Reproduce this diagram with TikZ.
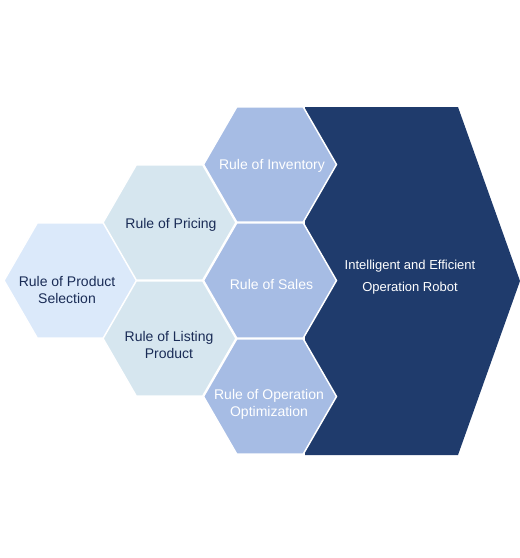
\documentclass[tikz,border=0pt]{standalone}
\usepackage{fontspec}
\setmainfont{Liberation Sans}
\definecolor{hexlight}{RGB}{219,233,250}
\definecolor{hexpale}{RGB}{214,230,239}
\definecolor{hexmid}{RGB}{166,188,228}
\definecolor{robotblue}{RGB}{31,59,108}
\definecolor{inkdark}{RGB}{26,44,86}
\begin{document}
\begin{tikzpicture}[x=1pt,y=-1pt,
  hexcell/.style={draw=white,line width=1.5pt,line join=miter},
  lbl/.style={align=center,inner sep=0pt,font=\fontsize{14}{17}\selectfont},
  lbldark/.style={lbl,text=inkdark},
  lbllight/.style={lbl,text=white},
  biglbl/.style={align=center,inner sep=0pt,text=white,font=\fontsize{13}{22}\selectfont}]
\useasboundingbox (0,0) rectangle (520,558);
% big robot shape
\fill[robotblue] (305,107) -- (458,107) -- (520,281) -- (458,455) -- (305,455) -- cycle;
% hex centres
\coordinate (c1) at (70.5,280.5);
\coordinate (c2) at (169.5,222.5);
\coordinate (c3) at (169.5,338.5);
\coordinate (c4) at (270,164.5);
\coordinate (c5) at (270,280.5);
\coordinate (c6) at (270,396.5);
\def\R{66.5}
\path[hexcell,fill=hexlight] (c1) +(0:\R) -- +(60:\R) -- +(120:\R) -- +(180:\R) -- +(240:\R) -- +(300:\R) -- cycle;
\path[hexcell,fill=hexpale] (c2) +(0:\R) -- +(60:\R) -- +(120:\R) -- +(180:\R) -- +(240:\R) -- +(300:\R) -- cycle;
\path[hexcell,fill=hexpale] (c3) +(0:\R) -- +(60:\R) -- +(120:\R) -- +(180:\R) -- +(240:\R) -- +(300:\R) -- cycle;
\path[hexcell,fill=hexmid] (c4) +(0:\R) -- +(60:\R) -- +(120:\R) -- +(180:\R) -- +(240:\R) -- +(300:\R) -- cycle;
\path[hexcell,fill=hexmid] (c5) +(0:\R) -- +(60:\R) -- +(120:\R) -- +(180:\R) -- +(240:\R) -- +(300:\R) -- cycle;
\path[hexcell,fill=hexmid] (c6) +(0:\R) -- +(60:\R) -- +(120:\R) -- +(180:\R) -- +(240:\R) -- +(300:\R) -- cycle;
% labels
\node[lbldark] (t1) at (67,290) {Rule of Product\\Selection};
\node[lbldark] (t2) at (171,224.5) {Rule of Pricing};
\node[lbldark] (t3) at (169,344.5) {Rule of Listing\\Product};
\node[lbllight] (t4) at (272,166) {Rule of Inventory};
\node[lbllight] (t5) at (271.5,284) {Rule of Sales};
\node[lbllight] (t6) at (269,404.5) {Rule of Operation\\Optimization};
\node[biglbl] (t7) at (410,277.5) {Intelligent and Efficient\\Operation Robot};
\end{tikzpicture}
\end{document}
